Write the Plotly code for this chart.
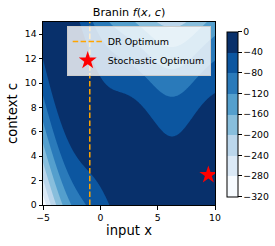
import numpy as np
import plotly.graph_objects as go

# Branin function parameters (standard constants)
A = 1.0
B = 5.1 / (4 * np.pi ** 2)
C = 5.0 / np.pi
R = 6.0
S = 10.0
T = 1.0 / (8 * np.pi)

x_vals = np.linspace(-5, 10, 301)
c_vals = np.linspace(0, 15, 301)
X, Cc = np.meshgrid(x_vals, c_vals)
Z = -(A * (Cc - B * X ** 2 + C * X - R) ** 2 + S * (1 - T) * np.cos(X) + S)

dr_optimum_x = -0.92
stoch_opt_x = [9.42]
stoch_opt_c = [2.47]

levels_start, levels_end, levels_step = -320, 0, 40
band_colors = ["#f7fbff", "#dbe9f6", "#bbd6eb", "#88bedc",
               "#549fcd", "#2a7aba", "#0c56a0", "#08306b"]

cs = []
n = len(band_colors)
for i, col in enumerate(band_colors):
    cs.append([i / n, col])
    cs.append([(i + 1) / n, col])

font_family = "DejaVu Sans"

W, H = 275, 246
ML, MT, MR, MB = 43, 22, 60, 41

fig = go.Figure()
fig.add_trace(go.Contour(
    x=x_vals, y=c_vals, z=Z,
    zmin=levels_start, zmax=levels_end,
    autocontour=False,
    contours=dict(start=levels_start, end=levels_end, size=levels_step, coloring="fill", showlines=False),
    line=dict(width=0),
    colorscale=cs,
    showlegend=False,
    hoverinfo="skip",
    colorbar=dict(
        x=1.068, xanchor="left", xpad=0,
        y=0.497, yanchor="middle", ypad=0,
        len=0.903, lenmode="fraction",
        thickness=10.5,
        outlinecolor="black", outlinewidth=1,
        tickmode="array",
        tickvals=list(range(levels_start, levels_end + 1, levels_step)),
        ticks="outside", ticklen=3.5, tickwidth=1, tickcolor="black",
        tickfont=dict(size=9.3, color="black", family=font_family),
    ),
))

fig.add_trace(go.Scatter(
    x=[dr_optimum_x, dr_optimum_x], y=[c_vals[0], c_vals[-1]],
    mode="lines",
    line=dict(color="orange", width=1.5, dash="5.5px,2.4px"),
    name="DR Optimum",
))

fig.add_trace(go.Scatter(
    x=stoch_opt_x, y=stoch_opt_c,
    mode="markers",
    marker=dict(symbol="star", size=13.5, color="red", line=dict(width=0)),
    name="Stochastic Optimum",
))

plot_w = W - ML - MR
fig.update_layout(
    width=W, height=H,
    margin=dict(l=ML, r=MR, t=MT, b=MB, autoexpand=False),
    paper_bgcolor="white", plot_bgcolor="white",
    font=dict(family=font_family, color="black"),
    title=dict(text="Branin <i>f</i>(<i>x</i>, <i>c</i>)", x=(ML + plot_w / 2) / W, xanchor="center",
               y=1 - 12 / H, yanchor="middle",
               font=dict(size=11.2, color="black")),
    legend=dict(
        x=0.975, xanchor="right", y=0.978, yanchor="top",
        bgcolor="rgba(255,255,255,0.8)", bordercolor="#cccccc", borderwidth=1,
        font=dict(size=9.5, color="black", family=font_family),
        tracegroupgap=0, itemwidth=30,
    ),
    xaxis=dict(
        range=[-5, 10], tickvals=[-5, 0, 5, 10],
        ticks="outside", ticklen=3.5, tickwidth=1, tickcolor="black",
        showline=True, linecolor="black", linewidth=1, mirror=True,
        showgrid=False, zeroline=False,
        tickfont=dict(size=9.3, color="black"),
        title=dict(text="input x", font=dict(size=13.2, color="black"), standoff=4),
    ),
    yaxis=dict(
        range=[0, 15], tickvals=list(range(0, 15, 2)),
        ticks="outside", ticklen=3.5, tickwidth=1, tickcolor="black",
        showline=True, linecolor="black", linewidth=1, mirror=True,
        showgrid=False, zeroline=False,
        tickfont=dict(size=9.3, color="black"),
        title=dict(text="context c", font=dict(size=13.2, color="black"), standoff=4),
    ),
)

fig.write_html("out.html", config={"displayModeBar": False},
               post_script="document.body.style.margin='0px';")
